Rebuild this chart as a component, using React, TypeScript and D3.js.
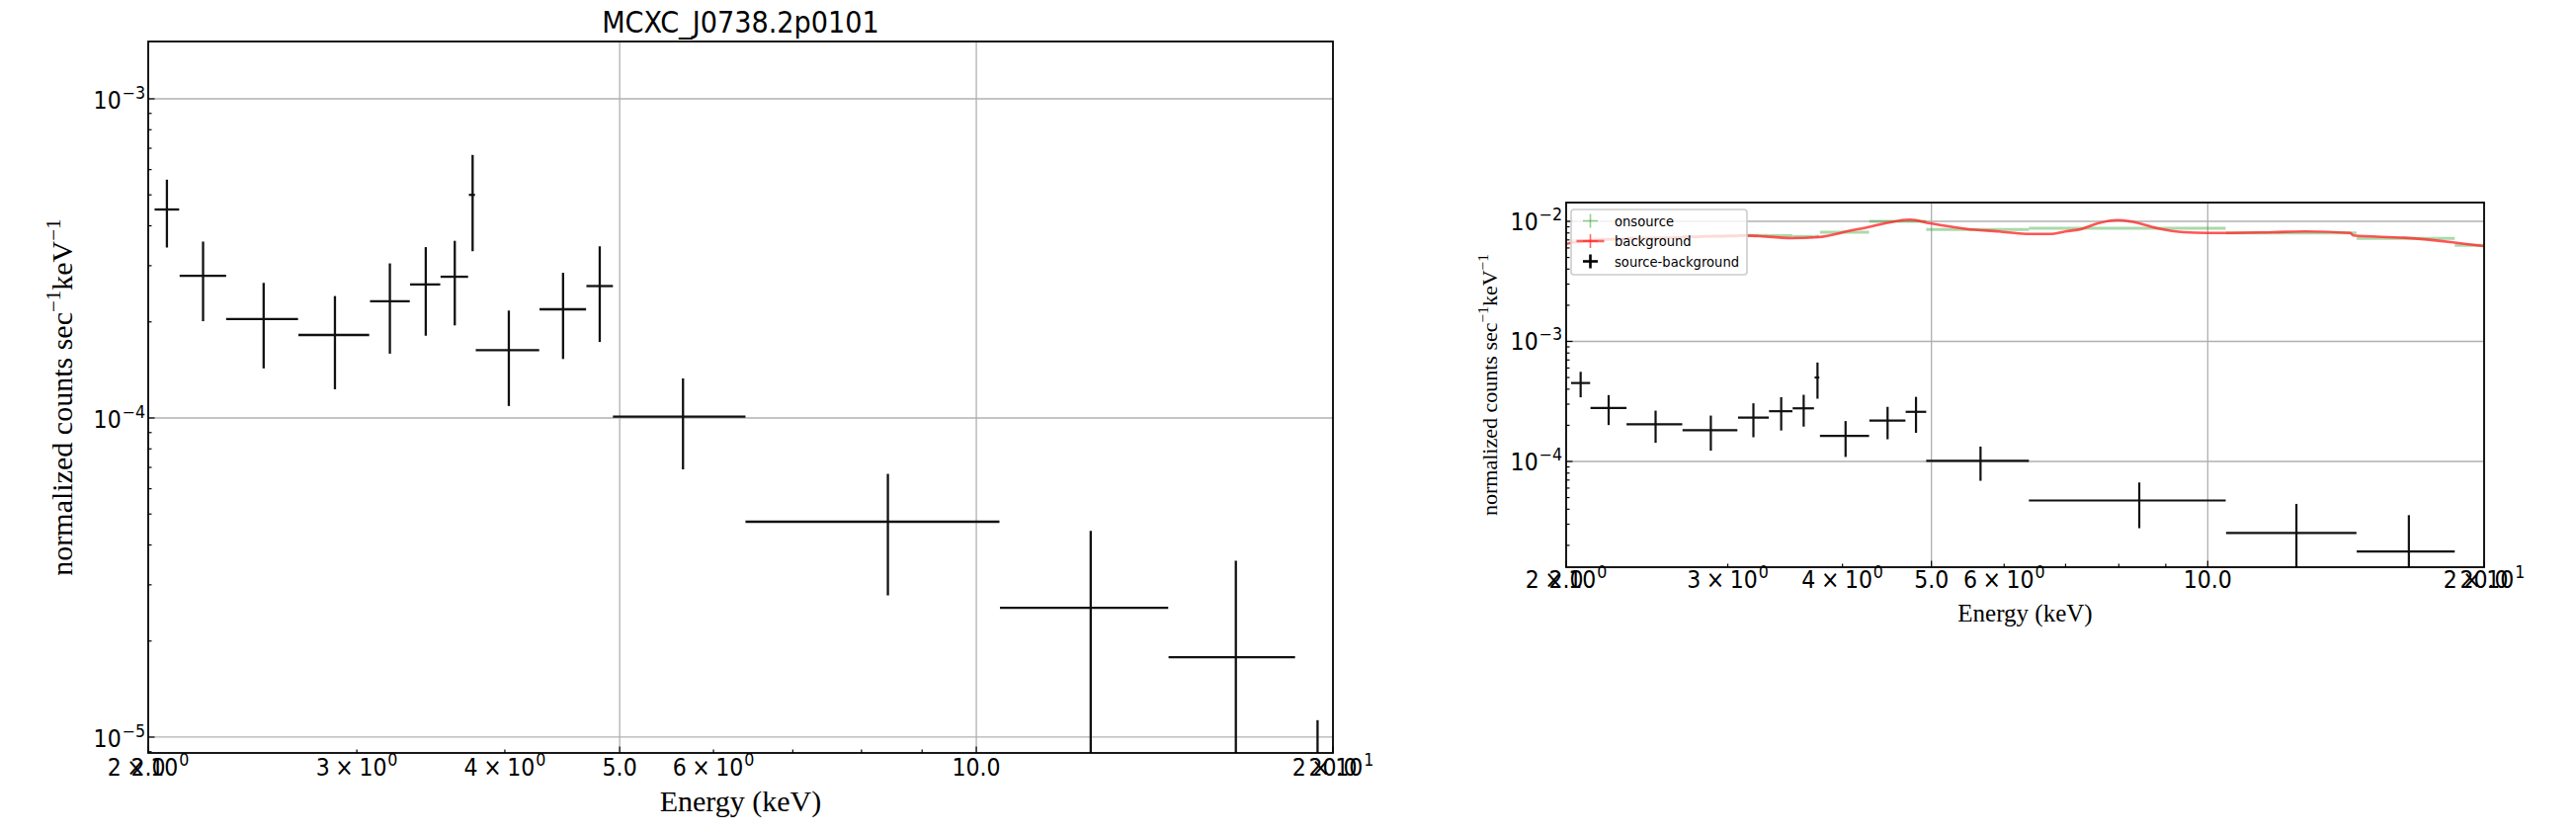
import React from 'react';
import * as d3 from 'd3';

const TITLE = 'MCXC_J0738.2p0101';
const X_LABEL = 'Energy (keV)';

// source-background spectrum (bin edges, centres, rate, symmetric error)
const binLo = [2.025, 2.126, 2.327, 2.678, 3.078, 3.327, 3.53, 3.73, 3.78, 4.279, 4.687, 4.935, 6.385, 10.47, 14.53, 18.58];
const binHi = [2.124, 2.327, 2.676, 3.073, 3.325, 3.528, 3.724, 3.774, 4.276, 4.684, 4.935, 6.385, 10.46, 14.52, 18.58, 20.3];
const energy = [2.074, 2.225, 2.503, 2.875, 3.199, 3.43, 3.629, 3.757, 4.031, 4.479, 4.81, 5.655, 8.421, 12.49, 16.56, 19.41];
const srcRate = [4.5e-4, 2.79e-4, 2.04e-4, 1.82e-4, 2.32e-4, 2.62e-4, 2.77e-4, 5.0e-4, 1.63e-4, 2.19e-4, 2.59e-4, 1.01e-4, 4.73e-5, 2.54e-5, 1.78e-5, 5.0e-6];
const srcErr = [1.08e-4, 0.78e-4, 0.61e-4, 0.59e-4, 0.73e-4, 0.81e-4, 0.82e-4, 1.67e-4, 0.54e-4, 0.66e-4, 0.86e-4, 0.32e-4, 1.95e-5, 1.89e-5, 1.79e-5, 6.3e-6];

// onsource spectrum (same bins)
const onsourceRate = [6.9e-3, 7.1e-3, 7.3e-3, 7.5e-3, 7.62e-3, 7.6e-3, 7.48e-3, 7.5e-3, 8.12e-3, 1.0e-2, 1.0e-2, 8.55e-3, 8.76e-3, 8.01e-3, 7.2e-3, 6.31e-3];

// background curve
const bgEnergy = [2.0, 2.142, 2.531, 3.141, 3.521, 3.764, 4.085, 4.26, 4.477, 4.74, 4.981, 5.46, 5.925, 6.337, 6.77, 6.992, 7.29, 7.59, 7.977, 8.258, 8.808, 9.42, 9.97, 11.78, 12.78, 14.3, 14.4, 16.37, 18.39, 19.95];
const bgRate = [6.5e-3, 6.98e-3, 7.25e-3, 7.62e-3, 7.25e-3, 7.38e-3, 8.38e-3, 8.93e-3, 9.72e-3, 1.033e-2, 9.63e-3, 8.64e-3, 8.23e-3, 7.86e-3, 7.86e-3, 8.23e-3, 8.64e-3, 9.63e-3, 1.025e-2, 9.94e-3, 8.76e-3, 8.12e-3, 8.01e-3, 8.12e-3, 8.23e-3, 8.0e-3, 7.62e-3, 7.29e-3, 6.72e-3, 6.22e-3];

// ticks
const xMajorTicks = [2, 5, 10, 20];
const xMajorLabels = ['2.0', '5.0', '10.0', '20.0'];
const xMinorLabelTicks = [2, 3, 4, 6, 20];
const xMinorLabelMant = ['2', '3', '4', '6', '2'];
const xMinorLabelExp = ['0', '0', '0', '0', '1'];
const legendLabels = ['onsource', 'background', 'source-background'];

const SANS = 'DejaVu Sans';
const SERIF = 'Liberation Serif';
const SQ = 0.92; // horizontal squeeze of sans text

function Sup({ x, y, base, sup, anchor, size }: any) {
  return (
    <g transform={`translate(${x},${y}) scale(${SQ},1)`}>
      <text textAnchor={anchor} fontFamily={SANS} fontSize={size} fill="#000">
        {base}
        <tspan fontSize={size * 0.72} dx={size * 0.04} dy={-size * 0.42}>{sup}</tspan>
      </text>
    </g>
  );
}

function Plain({ x, y, txt, anchor, size }: any) {
  return (
    <g transform={`translate(${x},${y}) scale(${SQ},1)`}>
      <text textAnchor={anchor} fontFamily={SANS} fontSize={size} fill="#000">{txt}</text>
    </g>
  );
}

function Panel({ id, left, right, top, bottom, yDomain, ylabSize, ylabX, xlabSize, xlabY, withBg, lw, yTickEndGap, yTickDy, xTickDy }: any) {
  const x = d3.scaleLog().domain([2, 20]).range([left, right]);
  const y = d3.scaleLog().domain(yDomain).range([bottom, top]);
  const xt = x.ticks();
  const yt = y.ticks().filter((v: number) => v >= yDomain[0] && v <= yDomain[1]);
  const isMajor = (v: number) => Math.abs(Math.log10(v) - Math.round(Math.log10(v))) < 1e-6;
  const yMajor = yt.filter(isMajor);
  const yMinor = yt.filter((v: number) => !isMajor(v));
  const xGrid = [5, 10];
  const xMinor = xt.filter((v: number) => xMajorTicks.indexOf(v) < 0);
  const line = d3.line<number>().x((_, i) => x(bgEnergy[i])).y((d) => y(d)).curve(d3.curveMonotoneX);
  const ySafe = (v: number) => (v > 0 ? y(v) : bottom + 20);
  const tickSize = 24;
  return (
    <g>
      <defs>
        <clipPath id={id}>
          <rect x={left} y={top} width={right - left} height={bottom - top} />
        </clipPath>
      </defs>
      {/* grid */}
      <g stroke="#b0b0b0" strokeWidth={1.3}>
        {yMajor.map((v: number) => <line key={'gy' + v} x1={left} x2={right} y1={y(v)} y2={y(v)} />)}
        {xGrid.map((v) => <line key={'gx' + v} x1={x(v)} x2={x(v)} y1={top} y2={bottom} />)}
      </g>
      <g clipPath={`url(#${id})`}>
        {withBg && (
          <g>
            <g stroke="rgb(44,160,44)" strokeOpacity={0.4} strokeWidth={3}>
              {onsourceRate.map((v, i) => (
                <line key={'on' + i} x1={x(binLo[i])} x2={x(binHi[i])} y1={y(v)} y2={y(v)} />
              ))}
            </g>
            <path d={line(bgRate) || ''} fill="none" stroke="#ff2a2a" strokeOpacity={0.8} strokeWidth={2.6} />
          </g>
        )}
        <g stroke="#111" strokeWidth={lw}>
          {srcRate.map((v, i) => (
            <g key={'s' + i}>
              <line x1={x(binLo[i])} x2={x(binHi[i])} y1={ySafe(v)} y2={ySafe(v)} />
              <line x1={x(energy[i])} x2={x(energy[i])} y1={y(v + srcErr[i])} y2={ySafe(v - srcErr[i])} />
            </g>
          ))}
        </g>
      </g>
      {/* spines */}
      <rect x={left} y={top} width={right - left} height={bottom - top} fill="none" stroke="#000" strokeWidth={1.8} />
      {/* ticks (inward) */}
      <g stroke="#000" strokeWidth={1.2}>
        {yMajor.map((v: number) => <line key={'ty' + v} x1={left} x2={left + 6.5} y1={y(v)} y2={y(v)} />)}
        {yMinor.map((v: number) => <line key={'tym' + v} x1={left} x2={left + 3.5} y1={y(v)} y2={y(v)} />)}
        {xMajorTicks.map((v) => <line key={'tx' + v} x1={x(v)} x2={x(v)} y1={bottom} y2={bottom - 6.5} />)}
        {xMinor.map((v: number) => <line key={'txm' + v} x1={x(v)} x2={x(v)} y1={bottom} y2={bottom - 3.5} />)}
      </g>
      {/* tick labels */}
      {yMajor.map((v: number) => (
        <Sup key={'ly' + v} x={left - yTickEndGap} y={y(v) + yTickDy} base="10" sup={'\u2212' + Math.round(-Math.log10(v))} anchor="end" size={tickSize} />
      ))}
      {xMinorLabelTicks.map((v, i) => (
        <Sup key={'lxm' + i} x={x(v)} y={bottom + xTickDy} base={xMinorLabelMant[i] + '\u2005\u00d7\u200510'} sup={xMinorLabelExp[i]} anchor="middle" size={tickSize} />
      ))}
      {xMajorTicks.map((v, i) => (
        <Plain key={'lx' + i} x={x(v)} y={bottom + xTickDy} txt={xMajorLabels[i]} anchor="middle" size={tickSize} />
      ))}
      {/* axis labels */}
      <text x={(left + right) / 2} y={xlabY} textAnchor="middle" fontFamily={SERIF} fontSize={xlabSize} fill="#000">{X_LABEL}</text>
      <text transform={`translate(${ylabX},${(top + bottom) / 2}) rotate(-90)`} textAnchor="middle" fontFamily={SERIF} fontSize={ylabSize} fill="#000">
        normalized counts sec
        <tspan fontSize={ylabSize * 0.7} dy={-ylabSize * 0.4}>{'\u22121'}</tspan>
        <tspan dy={ylabSize * 0.4}>keV</tspan>
        <tspan fontSize={ylabSize * 0.7} dy={-ylabSize * 0.4}>{'\u22121'}</tspan>
      </text>
    </g>
  );
}

function Legend({ x0, y0 }: any) {
  const rows = [y0 + 11.5, y0 + 32, y0 + 52.5];
  const mx = x0 + 19.5;
  const colors = ['rgba(44,160,44,0.5)', 'rgba(255,42,42,0.7)', '#000'];
  return (
    <g>
      <rect x={x0} y={y0} width={178} height={66} rx={3} fill="#fff" fillOpacity={0.8} stroke="#cccccc" strokeWidth={1.6} />
      {legendLabels.map((lab, i) => (
        <g key={lab}>
          {i === 1 && <line x1={mx - 14} x2={mx + 14} y1={rows[i]} y2={rows[i]} stroke={colors[i]} strokeWidth={2.6} />}
          <line x1={mx - 7.5} x2={mx + 7.5} y1={rows[i]} y2={rows[i]} stroke={colors[i]} strokeWidth={i === 2 ? 2.6 : 1.6} />
          <line x1={mx} x2={mx} y1={rows[i] - 7} y2={rows[i] + 7} stroke={colors[i]} strokeWidth={i === 2 ? 2.6 : 1.6} />
          <Plain x={x0 + 44} y={rows[i] + 5} txt={lab} anchor="start" size={14.3} />
        </g>
      ))}
    </g>
  );
}

export default function App() {
  return (
    <svg width={2607} height={842} viewBox="0 0 2607 842" style={{ position: 'absolute', left: 0, top: 0, background: '#fff' }}>
      <rect x={0} y={0} width={2607} height={842} fill="#fff" />
      <Plain x={749.5} y={33} txt={TITLE} anchor="middle" size={29.5} />
      <Panel id="clipL" left={150} right={1349} top={42} bottom={762} yDomain={[8.92e-6, 1.512e-3]}
        ylabSize={30} ylabX={73} xlabSize={30} xlabY={821} withBg={false} lw={2.3}
        yTickEndGap={3} yTickDy={10} xTickDy={23} />
      <Panel id="clipR" left={1585} right={2514} top={205} bottom={574} yDomain={[1.316e-5, 1.433e-2]}
        ylabSize={22} ylabX={1515} xlabSize={25} xlabY={629} withBg={true} lw={2.2}
        yTickEndGap={4} yTickDy={9} xTickDy={21} />
      <Legend x0={1590} y0={212} />
    </svg>
  );
}
